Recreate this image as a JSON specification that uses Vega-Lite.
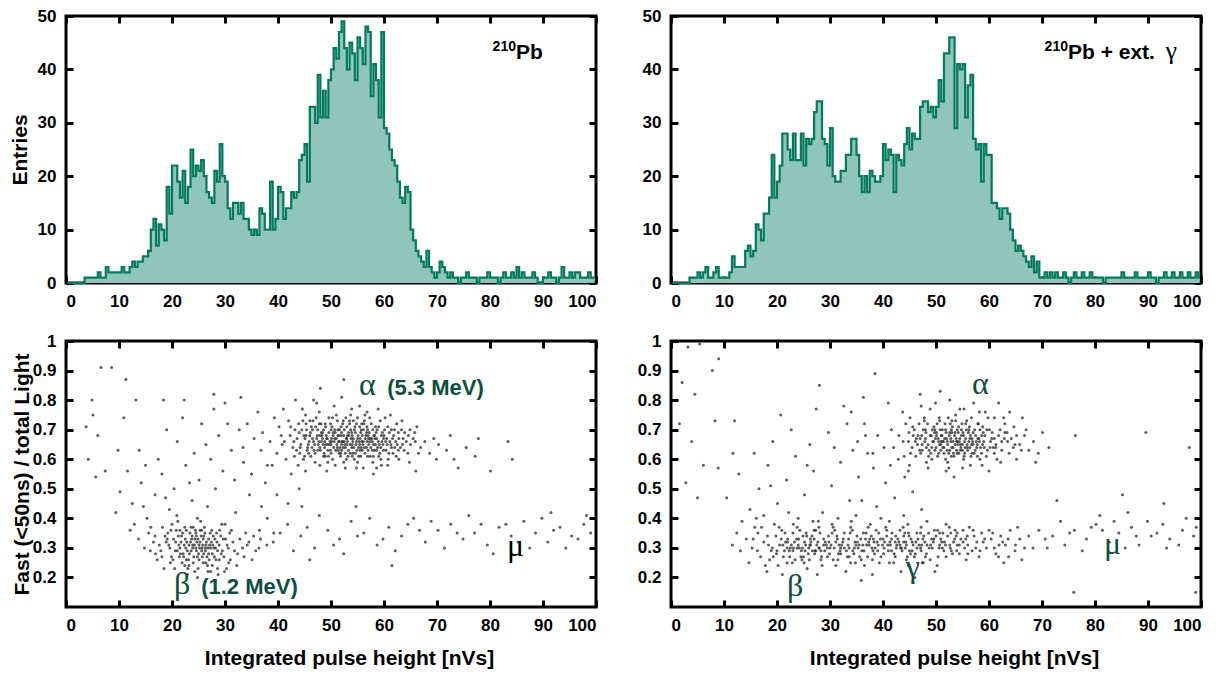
{
"$schema":"https://vega.github.io/schema/vega-lite/v6.json",
"padding":{"left":7,"top":5,"right":5,"bottom":5},
"config":{"view":{"stroke":"black","strokeWidth":3},"font":"Liberation Sans",
"axis":{"labelFont":"Liberation Sans Narrow, Liberation Sans","labelFontWeight":"bold","labelFontSize":17,"labelColor":"black","titleFont":"Liberation Sans Narrow, Liberation Sans","titleFontWeight":"bold","titleFontSize":21,"titleColor":"black","tickColor":"black","tickWidth":3,"tickSize":7,"offset":-7,"domain":false,"grid":false,"labelPadding":10,"zindex":1}},
"datasets":{
"h1":[{"x":0.25,"n":0},{"x":0.75,"n":0},{"x":1.25,"n":0},{"x":1.75,"n":0},{"x":2.25,"n":0},{"x":2.75,"n":0},{"x":3.25,"n":0},{"x":3.75,"n":1},{"x":4.25,"n":1},{"x":4.75,"n":1},{"x":5.25,"n":1},{"x":5.75,"n":1},{"x":6.25,"n":2},{"x":6.75,"n":1},{"x":7.25,"n":1},{"x":7.75,"n":3},{"x":8.25,"n":2},{"x":8.75,"n":2},{"x":9.25,"n":2},{"x":9.75,"n":2},{"x":10.25,"n":2},{"x":10.75,"n":3},{"x":11.25,"n":2},{"x":11.75,"n":2},{"x":12.25,"n":3},{"x":12.75,"n":4},{"x":13.25,"n":3},{"x":13.75,"n":4},{"x":14.25,"n":4},{"x":14.75,"n":5},{"x":15.25,"n":5},{"x":15.75,"n":6},{"x":16.25,"n":10},{"x":16.75,"n":12},{"x":17.25,"n":7},{"x":17.75,"n":11},{"x":18.25,"n":10},{"x":18.75,"n":8},{"x":19.25,"n":18},{"x":19.75,"n":13},{"x":20.25,"n":22},{"x":20.75,"n":22},{"x":21.25,"n":19},{"x":21.75,"n":16},{"x":22.25,"n":21},{"x":22.75,"n":15},{"x":23.25,"n":18},{"x":23.75,"n":25},{"x":24.25,"n":20},{"x":24.75,"n":22},{"x":25.25,"n":21},{"x":25.75,"n":23},{"x":26.25,"n":20},{"x":26.75,"n":17},{"x":27.25,"n":16},{"x":27.75,"n":15},{"x":28.25,"n":21},{"x":28.75,"n":19},{"x":29.25,"n":26},{"x":29.75,"n":20},{"x":30.25,"n":19},{"x":30.75,"n":14},{"x":31.25,"n":12},{"x":31.75,"n":15},{"x":32.25,"n":15},{"x":32.75,"n":13},{"x":33.25,"n":15},{"x":33.75,"n":12},{"x":34.25,"n":12},{"x":34.75,"n":10},{"x":35.25,"n":9},{"x":35.75,"n":10},{"x":36.25,"n":9},{"x":36.75,"n":14},{"x":37.25,"n":13},{"x":37.75,"n":10},{"x":38.25,"n":10},{"x":38.75,"n":19},{"x":39.25,"n":10},{"x":39.75,"n":12},{"x":40.25,"n":18},{"x":40.75,"n":17},{"x":41.25,"n":12},{"x":41.75,"n":14},{"x":42.25,"n":14},{"x":42.75,"n":17},{"x":43.25,"n":16},{"x":43.75,"n":17},{"x":44.25,"n":23},{"x":44.75,"n":24},{"x":45.25,"n":26},{"x":45.75,"n":19},{"x":46.25,"n":33},{"x":46.75,"n":33},{"x":47.25,"n":30},{"x":47.75,"n":39},{"x":48.25,"n":31},{"x":48.75,"n":36},{"x":49.25,"n":31},{"x":49.75,"n":38},{"x":50.25,"n":40},{"x":50.75,"n":44},{"x":51.25,"n":42},{"x":51.75,"n":47},{"x":52.25,"n":49},{"x":52.75,"n":44},{"x":53.25,"n":40},{"x":53.75,"n":45},{"x":54.25,"n":43},{"x":54.75,"n":38},{"x":55.25,"n":46},{"x":55.75,"n":44},{"x":56.25,"n":41},{"x":56.75,"n":48},{"x":57.25,"n":47},{"x":57.75,"n":35},{"x":58.25,"n":41},{"x":58.75,"n":38},{"x":59.25,"n":31},{"x":59.75,"n":47},{"x":60.25,"n":29},{"x":60.75,"n":28},{"x":61.25,"n":25},{"x":61.75,"n":23},{"x":62.25,"n":22},{"x":62.75,"n":19},{"x":63.25,"n":16},{"x":63.75,"n":15},{"x":64.25,"n":18},{"x":64.75,"n":17},{"x":65.25,"n":10},{"x":65.75,"n":8},{"x":66.25,"n":6},{"x":66.75,"n":5},{"x":67.25,"n":4},{"x":67.75,"n":3},{"x":68.25,"n":6},{"x":68.75,"n":3},{"x":69.25,"n":2},{"x":69.75,"n":1},{"x":70.25,"n":2},{"x":70.75,"n":4},{"x":71.25,"n":3},{"x":71.75,"n":2},{"x":72.25,"n":1},{"x":72.75,"n":2},{"x":73.25,"n":1},{"x":73.75,"n":1},{"x":74.25,"n":0},{"x":74.75,"n":1},{"x":75.25,"n":1},{"x":75.75,"n":2},{"x":76.25,"n":1},{"x":76.75,"n":1},{"x":77.25,"n":1},{"x":77.75,"n":0},{"x":78.25,"n":1},{"x":78.75,"n":1},{"x":79.25,"n":1},{"x":79.75,"n":2},{"x":80.25,"n":1},{"x":80.75,"n":1},{"x":81.25,"n":1},{"x":81.75,"n":0},{"x":82.25,"n":1},{"x":82.75,"n":2},{"x":83.25,"n":1},{"x":83.75,"n":1},{"x":84.25,"n":2},{"x":84.75,"n":1},{"x":85.25,"n":3},{"x":85.75,"n":1},{"x":86.25,"n":2},{"x":86.75,"n":1},{"x":87.25,"n":1},{"x":87.75,"n":1},{"x":88.25,"n":2},{"x":88.75,"n":1},{"x":89.25,"n":0},{"x":89.75,"n":0},{"x":90.25,"n":1},{"x":90.75,"n":1},{"x":91.25,"n":2},{"x":91.75,"n":1},{"x":92.25,"n":1},{"x":92.75,"n":0},{"x":93.25,"n":1},{"x":93.75,"n":3},{"x":94.25,"n":1},{"x":94.75,"n":1},{"x":95.25,"n":2},{"x":95.75,"n":1},{"x":96.25,"n":2},{"x":96.75,"n":2},{"x":97.25,"n":1},{"x":97.75,"n":1},{"x":98.25,"n":1},{"x":98.75,"n":2},{"x":99.25,"n":1},{"x":99.75,"n":1}],
"h2":[{"x":0.25,"n":0},{"x":0.75,"n":0},{"x":1.25,"n":0},{"x":1.75,"n":0},{"x":2.25,"n":0},{"x":2.75,"n":0},{"x":3.25,"n":0},{"x":3.75,"n":1},{"x":4.25,"n":1},{"x":4.75,"n":1},{"x":5.25,"n":2},{"x":5.75,"n":1},{"x":6.25,"n":2},{"x":6.75,"n":3},{"x":7.25,"n":1},{"x":7.75,"n":1},{"x":8.25,"n":2},{"x":8.75,"n":3},{"x":9.25,"n":1},{"x":9.75,"n":1},{"x":10.25,"n":1},{"x":10.75,"n":1},{"x":11.25,"n":2},{"x":11.75,"n":5},{"x":12.25,"n":3},{"x":12.75,"n":3},{"x":13.25,"n":3},{"x":13.75,"n":3},{"x":14.25,"n":6},{"x":14.75,"n":7},{"x":15.25,"n":5},{"x":15.75,"n":6},{"x":16.25,"n":11},{"x":16.75,"n":10},{"x":17.25,"n":8},{"x":17.75,"n":13},{"x":18.25,"n":13},{"x":18.75,"n":16},{"x":19.25,"n":24},{"x":19.75,"n":16},{"x":20.25,"n":19},{"x":20.75,"n":22},{"x":21.25,"n":28},{"x":21.75,"n":28},{"x":22.25,"n":25},{"x":22.75,"n":23},{"x":23.25,"n":28},{"x":23.75,"n":23},{"x":24.25,"n":23},{"x":24.75,"n":28},{"x":25.25,"n":22},{"x":25.75,"n":27},{"x":26.25,"n":26},{"x":26.75,"n":27},{"x":27.25,"n":32},{"x":27.75,"n":34},{"x":28.25,"n":34},{"x":28.75,"n":27},{"x":29.25,"n":26},{"x":29.75,"n":22},{"x":30.25,"n":29},{"x":30.75,"n":20},{"x":31.25,"n":19},{"x":31.75,"n":19},{"x":32.25,"n":21},{"x":32.75,"n":21},{"x":33.25,"n":24},{"x":33.75,"n":24},{"x":34.25,"n":27},{"x":34.75,"n":27},{"x":35.25,"n":24},{"x":35.75,"n":20},{"x":36.25,"n":17},{"x":36.75,"n":20},{"x":37.25,"n":17},{"x":37.75,"n":21},{"x":38.25,"n":20},{"x":38.75,"n":19},{"x":39.25,"n":19},{"x":39.75,"n":20},{"x":40.25,"n":26},{"x":40.75,"n":23},{"x":41.25,"n":25},{"x":41.75,"n":24},{"x":42.25,"n":17},{"x":42.75,"n":24},{"x":43.25,"n":23},{"x":43.75,"n":22},{"x":44.25,"n":26},{"x":44.75,"n":29},{"x":45.25,"n":25},{"x":45.75,"n":28},{"x":46.25,"n":27},{"x":46.75,"n":27},{"x":47.25,"n":33},{"x":47.75,"n":34},{"x":48.25,"n":34},{"x":48.75,"n":32},{"x":49.25,"n":33},{"x":49.75,"n":31},{"x":50.25,"n":33},{"x":50.75,"n":38},{"x":51.25,"n":34},{"x":51.75,"n":43},{"x":52.25,"n":43},{"x":52.75,"n":46},{"x":53.25,"n":46},{"x":53.75,"n":29},{"x":54.25,"n":41},{"x":54.75,"n":40},{"x":55.25,"n":41},{"x":55.75,"n":31},{"x":56.25,"n":37},{"x":56.75,"n":39},{"x":57.25,"n":27},{"x":57.75,"n":25},{"x":58.25,"n":26},{"x":58.75,"n":19},{"x":59.25,"n":26},{"x":59.75,"n":24},{"x":60.25,"n":24},{"x":60.75,"n":15},{"x":61.25,"n":15},{"x":61.75,"n":14},{"x":62.25,"n":12},{"x":62.75,"n":14},{"x":63.25,"n":14},{"x":63.75,"n":13},{"x":64.25,"n":10},{"x":64.75,"n":8},{"x":65.25,"n":6},{"x":65.75,"n":7},{"x":66.25,"n":6},{"x":66.75,"n":5},{"x":67.25,"n":4},{"x":67.75,"n":3},{"x":68.25,"n":5},{"x":68.75,"n":2},{"x":69.25,"n":4},{"x":69.75,"n":1},{"x":70.25,"n":1},{"x":70.75,"n":2},{"x":71.25,"n":1},{"x":71.75,"n":2},{"x":72.25,"n":1},{"x":72.75,"n":2},{"x":73.25,"n":1},{"x":73.75,"n":1},{"x":74.25,"n":2},{"x":74.75,"n":1},{"x":75.25,"n":0},{"x":75.75,"n":1},{"x":76.25,"n":2},{"x":76.75,"n":1},{"x":77.25,"n":1},{"x":77.75,"n":2},{"x":78.25,"n":1},{"x":78.75,"n":1},{"x":79.25,"n":2},{"x":79.75,"n":1},{"x":80.25,"n":1},{"x":80.75,"n":1},{"x":81.25,"n":1},{"x":81.75,"n":0},{"x":82.25,"n":1},{"x":82.75,"n":1},{"x":83.25,"n":1},{"x":83.75,"n":1},{"x":84.25,"n":1},{"x":84.75,"n":1},{"x":85.25,"n":2},{"x":85.75,"n":1},{"x":86.25,"n":1},{"x":86.75,"n":1},{"x":87.25,"n":1},{"x":87.75,"n":2},{"x":88.25,"n":1},{"x":88.75,"n":1},{"x":89.25,"n":1},{"x":89.75,"n":1},{"x":90.25,"n":2},{"x":90.75,"n":1},{"x":91.25,"n":1},{"x":91.75,"n":0},{"x":92.25,"n":1},{"x":92.75,"n":1},{"x":93.25,"n":2},{"x":93.75,"n":1},{"x":94.25,"n":1},{"x":94.75,"n":2},{"x":95.25,"n":1},{"x":95.75,"n":1},{"x":96.25,"n":2},{"x":96.75,"n":1},{"x":97.25,"n":1},{"x":97.75,"n":2},{"x":98.25,"n":1},{"x":98.75,"n":1},{"x":99.25,"n":2},{"x":99.75,"n":1}],
"s1":[{"x":52.1,"y":0.66},{"x":48.3,"y":0.68},{"x":55.7,"y":0.64},{"x":50.2,"y":0.71},{"x":57.4,"y":0.67},{"x":46.8,"y":0.63},{"x":53.9,"y":0.69},{"x":59.1,"y":0.65},{"x":44.5,"y":0.7},{"x":51.6,"y":0.62},{"x":56.2,"y":0.72},{"x":49.7,"y":0.65},{"x":54.4,"y":0.6},{"x":47.2,"y":0.74},{"x":58.6,"y":0.63},{"x":52.9,"y":0.67},{"x":45.9,"y":0.66},{"x":60.3,"y":0.66},{"x":50.8,"y":0.69},{"x":55.1,"y":0.68},{"x":43.6,"y":0.67},{"x":53.3,"y":0.63},{"x":57.9,"y":0.7},{"x":48.9,"y":0.61},{"x":51.2,"y":0.73},{"x":61.4,"y":0.64},{"x":46.1,"y":0.69},{"x":54.8,"y":0.66},{"x":49.2,"y":0.67},{"x":56.9,"y":0.61},{"x":52.5,"y":0.7},{"x":42.8,"y":0.64},{"x":58.2,"y":0.68},{"x":50.5,"y":0.64},{"x":55.4,"y":0.71},{"x":47.7,"y":0.66},{"x":53.6,"y":0.65},{"x":62.2,"y":0.66},{"x":45.3,"y":0.72},{"x":51.9,"y":0.68},{"x":57.1,"y":0.65},{"x":48.6,"y":0.7},{"x":54.1,"y":0.62},{"x":59.7,"y":0.69},{"x":44.1,"y":0.62},{"x":52.3,"y":0.64},{"x":56.5,"y":0.67},{"x":49.9,"y":0.72},{"x":60.9,"y":0.62},{"x":46.5,"y":0.67},{"x":53.0,"y":0.71},{"x":55.9,"y":0.63},{"x":47.9,"y":0.64},{"x":58.9,"y":0.66},{"x":51.4,"y":0.66},{"x":63.1,"y":0.64},{"x":50.0,"y":0.62},{"x":54.6,"y":0.69},{"x":45.6,"y":0.64},{"x":57.6,"y":0.72},{"x":52.7,"y":0.62},{"x":48.1,"y":0.72},{"x":55.3,"y":0.66},{"x":61.8,"y":0.68},{"x":43.2,"y":0.7},{"x":53.8,"y":0.67},{"x":49.4,"y":0.63},{"x":56.7,"y":0.69},{"x":51.0,"y":0.67},{"x":59.4,"y":0.64},{"x":46.3,"y":0.71},{"x":54.3,"y":0.64},{"x":47.4,"y":0.68},{"x":58.0,"y":0.61},{"x":52.0,"y":0.69},{"x":64.2,"y":0.66},{"x":50.6,"y":0.66},{"x":55.6,"y":0.69},{"x":44.9,"y":0.68},{"x":57.3,"y":0.66},{"x":48.8,"y":0.66},{"x":53.5,"y":0.73},{"x":60.1,"y":0.7},{"x":51.7,"y":0.64},{"x":56.0,"y":0.65},{"x":46.9,"y":0.65},{"x":62.7,"y":0.63},{"x":49.6,"y":0.69},{"x":54.9,"y":0.63},{"x":52.2,"y":0.72},{"x":58.4,"y":0.65},{"x":45.1,"y":0.67},{"x":50.3,"y":0.6},{"x":55.0,"y":0.74},{"x":47.0,"y":0.62},{"x":59.9,"y":0.67},{"x":53.1,"y":0.66},{"x":57.8,"y":0.63},{"x":48.4,"y":0.67},{"x":61.1,"y":0.66},{"x":51.3,"y":0.7},{"x":54.0,"y":0.68},{"x":42.3,"y":0.68},{"x":56.4,"y":0.62},{"x":49.0,"y":0.71},{"x":63.6,"y":0.67},{"x":52.6,"y":0.65},{"x":46.6,"y":0.73},{"x":58.7,"y":0.7},{"x":50.9,"y":0.63},{"x":55.2,"y":0.61},{"x":44.3,"y":0.65},{"x":53.7,"y":0.7},{"x":60.6,"y":0.65},{"x":47.5,"y":0.7},{"x":57.0,"y":0.68},{"x":51.8,"y":0.61},{"x":54.5,"y":0.71},{"x":48.0,"y":0.63},{"x":59.2,"y":0.62},{"x":52.4,"y":0.68},{"x":65.0,"y":0.65},{"x":45.8,"y":0.62},{"x":56.1,"y":0.7},{"x":50.1,"y":0.67},{"x":53.2,"y":0.61},{"x":61.6,"y":0.67},{"x":47.8,"y":0.72},{"x":55.8,"y":0.66},{"x":49.3,"y":0.65},{"x":58.3,"y":0.67},{"x":51.5,"y":0.68},{"x":43.9,"y":0.72},{"x":57.5,"y":0.64},{"x":54.7,"y":0.65},{"x":46.0,"y":0.68},{"x":62.5,"y":0.65},{"x":52.8,"y":0.74},{"x":48.5,"y":0.65},{"x":59.6,"y":0.66},{"x":50.7,"y":0.7},{"x":56.8,"y":0.66},{"x":53.4,"y":0.68},{"x":45.0,"y":0.61},{"x":60.4,"y":0.63},{"x":49.5,"y":0.61},{"x":55.5,"y":0.67},{"x":51.1,"y":0.65},{"x":57.2,"y":0.69},{"x":47.3,"y":0.67},{"x":63.9,"y":0.69},{"x":54.2,"y":0.67},{"x":52.0,"y":0.63},{"x":58.8,"y":0.64},{"x":44.7,"y":0.73},{"x":50.4,"y":0.68},{"x":56.3,"y":0.64},{"x":48.2,"y":0.69},{"x":61.3,"y":0.65},{"x":53.0,"y":0.65},{"x":46.4,"y":0.64},{"x":55.7,"y":0.7},{"x":49.8,"y":0.66},{"x":59.0,"y":0.71},{"x":51.9,"y":0.71},{"x":57.7,"y":0.67},{"x":47.6,"y":0.65},{"x":54.0,"y":0.61},{"x":62.0,"y":0.7},{"x":52.5,"y":0.66},{"x":45.4,"y":0.7},{"x":56.6,"y":0.68},{"x":50.0,"y":0.65},{"x":60.0,"y":0.68},{"x":53.6,"y":0.62},{"x":48.7,"y":0.62},{"x":58.5,"y":0.69},{"x":55.2,"y":0.64},{"x":43.0,"y":0.66},{"x":51.2,"y":0.64},{"x":57.4,"y":0.61},{"x":49.1,"y":0.68},{"x":64.5,"y":0.62},{"x":54.8,"y":0.72},
{"x":44.0,"y":0.69},{"x":45.7,"y":0.65},{"x":47.1,"y":0.71},{"x":48.8,"y":0.64},{"x":50.3,"y":0.74},{"x":51.6,"y":0.7},{"x":52.9,"y":0.6},{"x":54.2,"y":0.73},{"x":55.5,"y":0.63},{"x":56.8,"y":0.71},{"x":58.1,"y":0.68},{"x":59.4,"y":0.6},{"x":60.7,"y":0.71},{"x":62.0,"y":0.64},{"x":63.3,"y":0.7},{"x":64.6,"y":0.68},{"x":46.2,"y":0.61},{"x":47.8,"y":0.76},{"x":49.4,"y":0.59},{"x":51.0,"y":0.75},{"x":52.4,"y":0.59},{"x":53.7,"y":0.75},{"x":55.0,"y":0.59},{"x":56.4,"y":0.75},{"x":57.9,"y":0.59},{"x":59.3,"y":0.73},{"x":60.8,"y":0.6},{"x":62.4,"y":0.72},{"x":41.2,"y":0.66},{"x":42.4,"y":0.71},{"x":43.5,"y":0.63},{"x":44.8,"y":0.6},{"x":45.2,"y":0.75},{"x":48.2,"y":0.66},{"x":49.0,"y":0.65},{"x":50.7,"y":0.67},{"x":51.4,"y":0.63},{"x":52.2,"y":0.66},{"x":53.3,"y":0.69},{"x":54.1,"y":0.66},{"x":55.0,"y":0.67},{"x":55.9,"y":0.68},{"x":56.7,"y":0.64},{"x":57.8,"y":0.66},{"x":58.6,"y":0.67},{"x":59.8,"y":0.65},{"x":61.0,"y":0.69},{"x":62.8,"y":0.67},{"x":48.4,"y":0.69},{"x":49.9,"y":0.63},{"x":51.3,"y":0.68},{"x":52.7,"y":0.64},{"x":54.0,"y":0.65},{"x":55.4,"y":0.65},{"x":56.9,"y":0.7},{"x":58.2,"y":0.63},{"x":46.7,"y":0.66},{"x":47.5,"y":0.63},{"x":50.4,"y":0.69},{"x":53.1,"y":0.68},{"x":54.6,"y":0.62},{"x":57.1,"y":0.67},{"x":59.5,"y":0.68},{"x":61.7,"y":0.62},{"x":63.8,"y":0.63},{"x":65.5,"y":0.67},{"x":66.5,"y":0.62},{"x":65.9,"y":0.66},{"x":45.3,"y":0.68},{"x":44.2,"y":0.64},{"x":43.1,"y":0.61},{"x":42.0,"y":0.73},{"x":40.6,"y":0.68},{"x":39.8,"y":0.62},{"x":46.0,"y":0.73},{"x":49.6,"y":0.74},{"x":53.5,"y":0.72},{"x":57.3,"y":0.74},{"x":60.2,"y":0.74},{"x":58.6,"y":0.57},{"x":54.8,"y":0.57},{"x":50.8,"y":0.58},{"x":47.0,"y":0.59},{"x":52.0,"y":0.65},{"x":53.9,"y":0.64},{"x":55.6,"y":0.61},{"x":51.6,"y":0.66},{"x":50.0,"y":0.7},{"x":48.9,"y":0.72},{"x":56.1,"y":0.66},{"x":57.0,"y":0.63},{"x":58.4,"y":0.71},{"x":59.9,"y":0.63},{"x":61.4,"y":0.7},{"x":62.3,"y":0.61},{"x":63.5,"y":0.65},{"x":64.9,"y":0.7},{"x":60.5,"y":0.67},{"x":56.3,"y":0.73},{"x":52.3,"y":0.73},{"x":48.6,"y":0.61},{"x":45.5,"y":0.63},{"x":47.9,"y":0.68},{"x":51.8,"y":0.62},{"x":55.8,"y":0.72},{"x":54.4,"y":0.7},{"x":53.0,"y":0.67},{"x":50.1,"y":0.66},{"x":49.3,"y":0.67},{"x":46.5,"y":0.7},{"x":58.0,"y":0.65},{"x":59.0,"y":0.61},{"x":62.7,"y":0.69},
{"x":38.5,"y":0.66},{"x":40.2,"y":0.71},{"x":36.8,"y":0.63},{"x":41.5,"y":0.6},{"x":39.3,"y":0.74},{"x":37.1,"y":0.69},{"x":41.0,"y":0.77},{"x":43.8,"y":0.58},{"x":35.5,"y":0.67},{"x":40.8,"y":0.65},{"x":44.6,"y":0.77},{"x":47.3,"y":0.79},{"x":50.6,"y":0.78},{"x":53.9,"y":0.77},{"x":56.8,"y":0.76},{"x":49.2,"y":0.56},{"x":52.7,"y":0.57},{"x":56.1,"y":0.57},{"x":59.5,"y":0.58},{"x":62.8,"y":0.6},{"x":65.8,"y":0.69},{"x":66.9,"y":0.64},{"x":67.7,"y":0.66},{"x":68.6,"y":0.62},{"x":66.2,"y":0.71},{"x":69.4,"y":0.67},{"x":70.3,"y":0.65},{"x":71.8,"y":0.63},{"x":73.2,"y":0.6},{"x":75.5,"y":0.64},{"x":74.0,"y":0.57},{"x":77.2,"y":0.61},{"x":80.1,"y":0.56},{"x":83.4,"y":0.66},{"x":63.4,"y":0.73},{"x":61.2,"y":0.75},{"x":58.9,"y":0.77},{"x":45.2,"y":0.56},{"x":42.5,"y":0.55},{"x":46.7,"y":0.8},{"x":38.0,"y":0.58},{"x":34.2,"y":0.72},{"x":36.2,"y":0.76},{"x":33.4,"y":0.64},{"x":47.9,"y":0.58},{"x":55.4,"y":0.78},{"x":60.7,"y":0.58},{"x":64.8,"y":0.59},{"x":69.9,"y":0.6},{"x":72.5,"y":0.68},{"x":66.0,"y":0.56},{"x":58.0,"y":0.55},{"x":43.3,"y":0.8},{"x":52.0,"y":0.81},{"x":48.0,"y":0.84},
{"x":12.5,"y":0.45},{"x":14.2,"y":0.52},{"x":16.8,"y":0.48},{"x":18.1,"y":0.55},{"x":20.4,"y":0.5},{"x":22.6,"y":0.58},{"x":15.3,"y":0.4},{"x":19.5,"y":0.43},{"x":23.8,"y":0.46},{"x":25.1,"y":0.53},{"x":27.3,"y":0.6},{"x":29.6,"y":0.56},{"x":31.2,"y":0.63},{"x":33.5,"y":0.59},{"x":26.4,"y":0.65},{"x":24.2,"y":0.62},{"x":21.0,"y":0.66},{"x":28.8,"y":0.68},{"x":30.5,"y":0.72},{"x":32.7,"y":0.7},{"x":35.0,"y":0.55},{"x":37.6,"y":0.52},{"x":39.8,"y":0.48},{"x":41.9,"y":0.45},{"x":44.0,"y":0.5},{"x":17.4,"y":0.6},{"x":13.8,"y":0.63},{"x":11.6,"y":0.56},{"x":10.2,"y":0.49},{"x":19.0,"y":0.7},{"x":22.0,"y":0.74},{"x":25.6,"y":0.72},{"x":27.9,"y":0.77},{"x":30.0,"y":0.79},{"x":34.6,"y":0.48},{"x":36.9,"y":0.44},{"x":16.0,"y":0.37},{"x":20.9,"y":0.41},{"x":26.7,"y":0.44},{"x":32.0,"y":0.42},{"x":12.9,"y":0.38},{"x":9.4,"y":0.42},{"x":15.0,"y":0.58},{"x":23.3,"y":0.52},{"x":28.2,"y":0.5},{"x":38.9,"y":0.58},{"x":31.8,"y":0.53},{"x":18.8,"y":0.47},{"x":24.8,"y":0.4},{"x":14.6,"y":0.44},
{"x":25.2,"y":0.3},{"x":22.8,"y":0.32},{"x":27.6,"y":0.28},{"x":24.1,"y":0.27},{"x":26.9,"y":0.33},{"x":21.5,"y":0.3},{"x":28.9,"y":0.31},{"x":23.4,"y":0.35},{"x":25.9,"y":0.25},{"x":20.3,"y":0.33},{"x":29.8,"y":0.27},{"x":24.7,"y":0.32},{"x":22.1,"y":0.28},{"x":27.2,"y":0.35},{"x":26.3,"y":0.29},{"x":19.4,"y":0.31},{"x":30.6,"y":0.3},{"x":23.9,"y":0.3},{"x":25.5,"y":0.34},{"x":21.9,"y":0.25},{"x":28.3,"y":0.26},{"x":24.4,"y":0.36},{"x":26.6,"y":0.27},{"x":18.7,"y":0.34},{"x":31.5,"y":0.32},{"x":22.5,"y":0.33},{"x":27.9,"y":0.3},{"x":23.1,"y":0.26},{"x":25.8,"y":0.31},{"x":20.8,"y":0.36},{"x":29.2,"y":0.34},{"x":24.9,"y":0.23},{"x":26.1,"y":0.37},{"x":22.3,"y":0.31},{"x":28.6,"y":0.29},{"x":17.9,"y":0.29},{"x":32.4,"y":0.28},{"x":23.6,"y":0.29},{"x":25.0,"y":0.28},{"x":21.2,"y":0.34},{"x":27.4,"y":0.32},{"x":24.3,"y":0.33},{"x":26.7,"y":0.24},{"x":19.9,"y":0.27},{"x":30.1,"y":0.33},{"x":22.7,"y":0.36},{"x":28.1,"y":0.33},{"x":23.0,"y":0.23},{"x":25.6,"y":0.36},{"x":21.7,"y":0.32},{"x":29.5,"y":0.29},{"x":24.6,"y":0.29},{"x":26.4,"y":0.31},{"x":18.2,"y":0.37},{"x":33.3,"y":0.3},{"x":20.6,"y":0.29},{"x":27.0,"y":0.26},{"x":23.7,"y":0.33},{"x":25.3,"y":0.32},{"x":22.0,"y":0.35},{"x":28.4,"y":0.35},{"x":24.0,"y":0.25},{"x":26.0,"y":0.34},{"x":19.1,"y":0.33},{"x":31.0,"y":0.26},{"x":21.4,"y":0.27},{"x":27.7,"y":0.31},{"x":23.2,"y":0.31},{"x":25.7,"y":0.27},{"x":29.0,"y":0.36},{"x":24.5,"y":0.35},{"x":22.4,"y":0.24},{"x":26.8,"y":0.3},{"x":20.0,"y":0.38},{"x":30.9,"y":0.35},{"x":16.5,"y":0.32},{"x":34.5,"y":0.32},{"x":17.2,"y":0.26},{"x":35.8,"y":0.29},{"x":15.6,"y":0.35},{"x":33.9,"y":0.35},{"x":36.7,"y":0.33},{"x":18.5,"y":0.23},{"x":32.2,"y":0.24},{"x":14.8,"y":0.3},{"x":37.9,"y":0.31},{"x":22.9,"y":0.21},{"x":27.3,"y":0.22},{"x":21.1,"y":0.39},{"x":29.4,"y":0.38},{"x":25.4,"y":0.39},{"x":30.3,"y":0.23},{"x":19.7,"y":0.25},{"x":16.9,"y":0.28},{"x":35.1,"y":0.26},{"x":13.7,"y":0.33},{"x":39.2,"y":0.35},{"x":24.8,"y":0.2},{"x":28.7,"y":0.21},{"x":12.1,"y":0.36},
{"x":24.2,"y":0.31},{"x":25.6,"y":0.29},{"x":23.3,"y":0.28},{"x":26.5,"y":0.32},{"x":22.6,"y":0.3},{"x":27.3,"y":0.3},{"x":21.3,"y":0.31},{"x":28.5,"y":0.32},{"x":24.8,"y":0.27},{"x":25.9,"y":0.33},{"x":23.8,"y":0.34},{"x":26.9,"y":0.28},{"x":20.7,"y":0.32},{"x":29.3,"y":0.28},{"x":22.2,"y":0.27},{"x":27.8,"y":0.34},{"x":24.5,"y":0.3},{"x":25.1,"y":0.26},{"x":23.5,"y":0.32},{"x":26.2,"y":0.35},{"x":19.6,"y":0.3},{"x":30.4,"y":0.31},{"x":21.8,"y":0.34},{"x":28.0,"y":0.27},{"x":24.0,"y":0.37},{"x":26.4,"y":0.25},{"x":22.9,"y":0.29},{"x":27.1,"y":0.31},{"x":18.9,"y":0.32},{"x":31.8,"y":0.29},{"x":20.2,"y":0.26},{"x":29.7,"y":0.33},{"x":23.2,"y":0.24},{"x":25.3,"y":0.36},{"x":21.0,"y":0.29},{"x":28.9,"y":0.26},{"x":24.3,"y":0.22},{"x":26.0,"y":0.28},{"x":17.6,"y":0.31},{"x":32.8,"y":0.33},{"x":19.2,"y":0.35},{"x":30.7,"y":0.25},{"x":22.4,"y":0.37},{"x":27.6,"y":0.24},{"x":25.7,"y":0.3},{"x":24.6,"y":0.34},{"x":23.9,"y":0.31},{"x":26.3,"y":0.3},{"x":21.6,"y":0.28},{"x":28.2,"y":0.3},{"x":16.8,"y":0.34},{"x":33.6,"y":0.27},{"x":20.5,"y":0.23},{"x":31.2,"y":0.36},{"x":34.2,"y":0.31},{"x":35.4,"y":0.34},{"x":36.4,"y":0.3},{"x":15.9,"y":0.29},{"x":18.1,"y":0.27},{"x":29.9,"y":0.22},{"x":22.7,"y":0.26},{"x":27.5,"y":0.36},{"x":25.1,"y":0.31},{"x":23.6,"y":0.37},{"x":26.8,"y":0.22},{"x":19.8,"y":0.36},{"x":30.0,"y":0.38},{"x":24.9,"y":0.33},{"x":21.5,"y":0.36},{"x":28.6,"y":0.23},
{"x":36.5,"y":0.36},{"x":39.1,"y":0.32},{"x":41.8,"y":0.38},{"x":44.3,"y":0.34},{"x":46.9,"y":0.3},{"x":49.4,"y":0.36},{"x":51.6,"y":0.33},{"x":53.8,"y":0.39},{"x":56.2,"y":0.35},{"x":58.7,"y":0.31},{"x":60.9,"y":0.37},{"x":63.3,"y":0.34},{"x":65.6,"y":0.4},{"x":67.8,"y":0.32},{"x":70.2,"y":0.36},{"x":72.6,"y":0.38},{"x":74.9,"y":0.33},{"x":77.1,"y":0.35},{"x":79.5,"y":0.31},{"x":81.7,"y":0.37},{"x":84.0,"y":0.34},{"x":86.4,"y":0.39},{"x":88.6,"y":0.35},{"x":90.9,"y":0.32},{"x":93.2,"y":0.37},{"x":95.4,"y":0.34},{"x":97.7,"y":0.38},{"x":99.0,"y":0.35},{"x":38.0,"y":0.4},{"x":42.9,"y":0.29},{"x":47.8,"y":0.41},{"x":52.4,"y":0.28},{"x":57.3,"y":0.4},{"x":62.1,"y":0.29},{"x":66.7,"y":0.36},{"x":71.4,"y":0.3},{"x":76.0,"y":0.41},{"x":80.6,"y":0.28},{"x":85.3,"y":0.32},{"x":89.8,"y":0.4},{"x":94.3,"y":0.3},{"x":98.2,"y":0.41},{"x":45.5,"y":0.37},{"x":55.0,"y":0.34},{"x":64.5,"y":0.38},{"x":73.8,"y":0.35},{"x":83.0,"y":0.38},{"x":92.0,"y":0.36},{"x":96.6,"y":0.33},{"x":68.9,"y":0.39},{"x":59.8,"y":0.33},{"x":50.5,"y":0.31},{"x":40.4,"y":0.35},{"x":87.5,"y":0.3},{"x":78.3,"y":0.38},{"x":61.5,"y":0.24},{"x":46.0,"y":0.26},{"x":91.5,"y":0.42},{"x":54.7,"y":0.44},
{"x":3.8,"y":0.71},{"x":5.1,"y":0.75},{"x":4.2,"y":0.6},{"x":6.6,"y":0.91},{"x":8.6,"y":0.91},{"x":11.3,"y":0.87},{"x":6.0,"y":0.68},{"x":7.4,"y":0.56},{"x":13.2,"y":0.8},{"x":18.4,"y":0.8},{"x":22.3,"y":0.8},{"x":27.9,"y":0.82},{"x":33.0,"y":0.81},{"x":9.8,"y":0.63},{"x":5.6,"y":0.54},{"x":10.9,"y":0.74},{"x":44.5,"y":0.44},{"x":84.2,"y":0.6},{"x":77.8,"y":0.67},{"x":52.4,"y":0.87},{"x":4.9,"y":0.8}],
"s2":[{"x":53.2,"y":0.66},{"x":50.1,"y":0.68},{"x":56.4,"y":0.64},{"x":48.7,"y":0.63},{"x":54.8,"y":0.7},{"x":51.5,"y":0.62},{"x":57.9,"y":0.67},{"x":46.3,"y":0.67},{"x":52.7,"y":0.72},{"x":55.3,"y":0.61},{"x":49.6,"y":0.71},{"x":58.8,"y":0.65},{"x":47.4,"y":0.65},{"x":53.9,"y":0.63},{"x":51.0,"y":0.66},{"x":56.1,"y":0.69},{"x":44.9,"y":0.69},{"x":59.7,"y":0.63},{"x":52.2,"y":0.65},{"x":54.5,"y":0.67},{"x":50.6,"y":0.74},{"x":57.2,"y":0.62},{"x":48.1,"y":0.69},{"x":55.8,"y":0.73},{"x":49.2,"y":0.64},{"x":60.5,"y":0.67},{"x":53.5,"y":0.68},{"x":46.8,"y":0.72},{"x":51.9,"y":0.69},{"x":56.9,"y":0.66},{"x":45.5,"y":0.64},{"x":54.0,"y":0.62},{"x":58.3,"y":0.7},{"x":50.3,"y":0.61},{"x":52.9,"y":0.7},{"x":47.9,"y":0.66},{"x":55.0,"y":0.65},{"x":61.3,"y":0.65},{"x":49.9,"y":0.67},{"x":53.7,"y":0.73},{"x":57.5,"y":0.68},{"x":51.3,"y":0.64},{"x":48.4,"y":0.72},{"x":56.6,"y":0.61},{"x":54.2,"y":0.69},{"x":43.8,"y":0.66},{"x":59.2,"y":0.68},{"x":52.4,"y":0.62},{"x":50.8,"y":0.7},{"x":55.6,"y":0.67},{"x":47.1,"y":0.62},{"x":62.4,"y":0.63},{"x":53.0,"y":0.64},{"x":49.4,"y":0.66},{"x":57.0,"y":0.65},{"x":51.7,"y":0.72},{"x":54.7,"y":0.64},{"x":45.9,"y":0.7},{"x":58.6,"y":0.62},{"x":52.0,"y":0.67},{"x":56.3,"y":0.71},{"x":48.9,"y":0.68},{"x":60.1,"y":0.7},{"x":53.4,"y":0.61},{"x":50.0,"y":0.64},{"x":55.1,"y":0.69},{"x":46.5,"y":0.65},{"x":57.7,"y":0.64},{"x":51.1,"y":0.68},{"x":63.5,"y":0.66},{"x":54.4,"y":0.66},{"x":49.0,"y":0.62},{"x":52.6,"y":0.69},{"x":56.0,"y":0.63},{"x":47.6,"y":0.7},{"x":59.0,"y":0.66},{"x":53.8,"y":0.67},{"x":50.5,"y":0.66},{"x":55.4,"y":0.62},{"x":44.3,"y":0.72},{"x":58.0,"y":0.72},{"x":51.8,"y":0.6},{"x":54.9,"y":0.72},{"x":48.2,"y":0.64},{"x":61.8,"y":0.68},{"x":52.8,"y":0.66},{"x":57.3,"y":0.7},{"x":49.7,"y":0.69},{"x":45.2,"y":0.62},{"x":55.9,"y":0.65},{"x":53.1,"y":0.71},{"x":50.9,"y":0.63},{"x":60.8,"y":0.64},{"x":47.3,"y":0.68},{"x":54.1,"y":0.65},{"x":56.8,"y":0.67},{"x":51.4,"y":0.66},{"x":58.4,"y":0.64},{"x":52.3,"y":0.74},{"x":49.3,"y":0.7},{"x":64.6,"y":0.64},{"x":55.2,"y":0.68},{"x":46.1,"y":0.66},{"x":57.6,"y":0.66},{"x":53.6,"y":0.65},{"x":50.2,"y":0.72},{"x":62.9,"y":0.67},{"x":48.6,"y":0.61},{"x":54.6,"y":0.63},{"x":56.5,"y":0.68},{"x":51.6,"y":0.67},{"x":59.5,"y":0.61},{"x":52.1,"y":0.63},{"x":47.8,"y":0.73},{"x":55.7,"y":0.7},{"x":53.3,"y":0.62},{"x":58.1,"y":0.67},{"x":50.7,"y":0.65},{"x":45.7,"y":0.68},{"x":61.0,"y":0.62},{"x":54.3,"y":0.71},{"x":49.8,"y":0.63},{"x":56.7,"y":0.65},{"x":52.5,"y":0.68},{"x":57.8,"y":0.61},{"x":48.0,"y":0.67},{"x":60.3,"y":0.66},{"x":53.0,"y":0.69},{"x":51.2,"y":0.7},{"x":55.5,"y":0.64},{"x":46.9,"y":0.63},{"x":63.0,"y":0.69},{"x":54.0,"y":0.66},{"x":58.9,"y":0.69},{"x":50.4,"y":0.67},{"x":52.9,"y":0.61},{"x":56.2,"y":0.66},
{"x":47.0,"y":0.67},{"x":48.5,"y":0.65},{"x":49.8,"y":0.7},{"x":51.2,"y":0.66},{"x":52.6,"y":0.63},{"x":54.0,"y":0.7},{"x":55.4,"y":0.66},{"x":56.8,"y":0.62},{"x":58.2,"y":0.66},{"x":59.6,"y":0.7},{"x":61.0,"y":0.67},{"x":62.4,"y":0.66},{"x":63.8,"y":0.62},{"x":65.2,"y":0.68},{"x":46.2,"y":0.61},{"x":47.8,"y":0.74},{"x":49.2,"y":0.6},{"x":50.7,"y":0.73},{"x":52.2,"y":0.59},{"x":53.7,"y":0.75},{"x":55.2,"y":0.6},{"x":56.7,"y":0.74},{"x":58.3,"y":0.6},{"x":59.8,"y":0.74},{"x":61.5,"y":0.6},{"x":63.0,"y":0.72},{"x":44.8,"y":0.66},{"x":45.6,"y":0.71},{"x":50.1,"y":0.69},{"x":51.5,"y":0.64},{"x":52.8,"y":0.67},{"x":53.9,"y":0.66},{"x":54.8,"y":0.68},{"x":55.9,"y":0.64},{"x":57.0,"y":0.69},{"x":58.6,"y":0.68},{"x":60.2,"y":0.64},{"x":48.0,"y":0.7},{"x":49.5,"y":0.66},{"x":53.2,"y":0.64},{"x":54.3,"y":0.62},{"x":56.2,"y":0.7},{"x":57.4,"y":0.63},{"x":59.1,"y":0.64},{"x":60.6,"y":0.69},{"x":62.1,"y":0.7},{"x":64.2,"y":0.67},{"x":66.1,"y":0.63},{"x":67.0,"y":0.7},{"x":50.5,"y":0.62},{"x":51.8,"y":0.7},{"x":53.0,"y":0.73},{"x":55.6,"y":0.72},{"x":57.9,"y":0.72},{"x":46.6,"y":0.68},{"x":43.0,"y":0.68},{"x":42.0,"y":0.64},{"x":44.0,"y":0.61},{"x":45.1,"y":0.74},{"x":48.9,"y":0.77},{"x":54.5,"y":0.77},{"x":59.3,"y":0.76},{"x":62.8,"y":0.74},{"x":56.5,"y":0.58},{"x":52.4,"y":0.57},{"x":48.2,"y":0.59},{"x":52.1,"y":0.66},{"x":53.6,"y":0.69},{"x":55.0,"y":0.63},{"x":56.4,"y":0.67},{"x":57.8,"y":0.65},{"x":49.1,"y":0.68},{"x":50.9,"y":0.65},{"x":58.8,"y":0.71},{"x":61.3,"y":0.64},{"x":47.4,"y":0.63},{"x":63.4,"y":0.69},{"x":64.9,"y":0.65},{"x":54.6,"y":0.65},{"x":51.0,"y":0.68},
{"x":40.2,"y":0.64},{"x":41.6,"y":0.7},{"x":42.9,"y":0.6},{"x":39.0,"y":0.68},{"x":43.7,"y":0.76},{"x":38.1,"y":0.62},{"x":45.0,"y":0.58},{"x":47.2,"y":0.78},{"x":49.9,"y":0.79},{"x":52.6,"y":0.8},{"x":55.3,"y":0.77},{"x":58.2,"y":0.76},{"x":61.0,"y":0.74},{"x":48.5,"y":0.57},{"x":51.9,"y":0.56},{"x":55.0,"y":0.57},{"x":58.7,"y":0.58},{"x":62.2,"y":0.59},{"x":64.7,"y":0.71},{"x":65.8,"y":0.65},{"x":66.7,"y":0.68},{"x":67.5,"y":0.63},{"x":68.4,"y":0.66},{"x":65.2,"y":0.6},{"x":69.3,"y":0.62},{"x":70.1,"y":0.69},{"x":66.3,"y":0.74},{"x":63.9,"y":0.76},{"x":36.5,"y":0.72},{"x":35.2,"y":0.66},{"x":34.0,"y":0.76},{"x":44.1,"y":0.54},{"x":53.4,"y":0.54},{"x":60.0,"y":0.56},{"x":47.0,"y":0.82},{"x":50.8,"y":0.83},{"x":41.0,"y":0.79},{"x":71.3,"y":0.64},{"x":57.1,"y":0.79},{"x":68.8,"y":0.59},
{"x":10.5,"y":0.47},{"x":12.8,"y":0.55},{"x":14.9,"y":0.43},{"x":16.6,"y":0.5},{"x":18.3,"y":0.58},{"x":20.1,"y":0.45},{"x":21.8,"y":0.53},{"x":23.5,"y":0.61},{"x":25.2,"y":0.48},{"x":26.9,"y":0.56},{"x":28.6,"y":0.42},{"x":30.3,"y":0.51},{"x":32.0,"y":0.59},{"x":33.7,"y":0.46},{"x":35.4,"y":0.54},{"x":37.1,"y":0.62},{"x":38.8,"y":0.44},{"x":40.5,"y":0.52},{"x":42.2,"y":0.47},{"x":43.9,"y":0.41},{"x":45.6,"y":0.49},{"x":47.3,"y":0.43},{"x":15.7,"y":0.62},{"x":19.2,"y":0.66},{"x":22.7,"y":0.7},{"x":26.2,"y":0.65},{"x":29.7,"y":0.69},{"x":33.2,"y":0.72},{"x":36.7,"y":0.68},{"x":24.0,"y":0.4},{"x":27.8,"y":0.39},{"x":31.5,"y":0.4},{"x":34.9,"y":0.41},{"x":39.6,"y":0.4},{"x":13.4,"y":0.39},{"x":17.5,"y":0.41},{"x":11.7,"y":0.62},{"x":8.9,"y":0.57},{"x":30.8,"y":0.64},{"x":34.3,"y":0.63},{"x":38.2,"y":0.57},{"x":41.4,"y":0.58},{"x":44.8,"y":0.56},{"x":20.7,"y":0.75},{"x":27.4,"y":0.77},{"x":32.6,"y":0.78},{"x":36.0,"y":0.46},{"x":22.2,"y":0.42},{"x":18.8,"y":0.51},{"x":25.7,"y":0.58},
{"x":20.5,"y":0.31},{"x":22.3,"y":0.29},{"x":24.1,"y":0.33},{"x":25.9,"y":0.28},{"x":27.7,"y":0.32},{"x":29.5,"y":0.3},{"x":31.3,"y":0.34},{"x":33.1,"y":0.29},{"x":34.9,"y":0.31},{"x":36.7,"y":0.33},{"x":38.5,"y":0.3},{"x":40.3,"y":0.32},{"x":42.1,"y":0.28},{"x":43.9,"y":0.34},{"x":45.7,"y":0.31},{"x":47.5,"y":0.33},{"x":49.3,"y":0.3},{"x":51.1,"y":0.32},{"x":52.9,"y":0.29},{"x":54.7,"y":0.33},
{"x":21.2,"y":0.27},{"x":23.0,"y":0.35},{"x":24.8,"y":0.3},{"x":26.6,"y":0.34},{"x":28.4,"y":0.27},{"x":30.2,"y":0.31},{"x":32.0,"y":0.28},{"x":33.8,"y":0.35},{"x":35.6,"y":0.27},{"x":37.4,"y":0.31},{"x":39.2,"y":0.35},{"x":41.0,"y":0.29},{"x":42.8,"y":0.33},{"x":44.6,"y":0.27},{"x":46.4,"y":0.35},{"x":48.2,"y":0.28},{"x":50.0,"y":0.34},{"x":51.8,"y":0.31},{"x":53.6,"y":0.36},{"x":55.4,"y":0.3},
{"x":19.8,"y":0.34},{"x":21.6,"y":0.32},{"x":23.4,"y":0.26},{"x":25.2,"y":0.32},{"x":27.0,"y":0.36},{"x":28.8,"y":0.33},{"x":30.6,"y":0.26},{"x":32.4,"y":0.32},{"x":34.2,"y":0.36},{"x":36.0,"y":0.29},{"x":37.8,"y":0.34},{"x":39.6,"y":0.27},{"x":41.4,"y":0.31},{"x":43.2,"y":0.36},{"x":45.0,"y":0.29},{"x":46.8,"y":0.31},{"x":48.6,"y":0.35},{"x":50.4,"y":0.27},{"x":52.2,"y":0.34},{"x":54.0,"y":0.31},
{"x":18.9,"y":0.29},{"x":20.9,"y":0.36},{"x":22.7,"y":0.31},{"x":24.5,"y":0.27},{"x":26.3,"y":0.31},{"x":28.1,"y":0.35},{"x":29.9,"y":0.28},{"x":31.7,"y":0.31},{"x":33.5,"y":0.33},{"x":35.3,"y":0.3},{"x":37.1,"y":0.27},{"x":38.9,"y":0.32},{"x":40.7,"y":0.34},{"x":42.5,"y":0.3},{"x":44.3,"y":0.32},{"x":46.1,"y":0.28},{"x":47.9,"y":0.32},{"x":49.7,"y":0.36},{"x":51.5,"y":0.29},{"x":53.3,"y":0.32},
{"x":17.5,"y":0.32},{"x":19.3,"y":0.27},{"x":21.9,"y":0.3},{"x":23.7,"y":0.33},{"x":25.5,"y":0.35},{"x":27.3,"y":0.29},{"x":29.1,"y":0.32},{"x":30.9,"y":0.36},{"x":32.7,"y":0.3},{"x":34.5,"y":0.28},{"x":36.3,"y":0.35},{"x":38.1,"y":0.29},{"x":39.9,"y":0.31},{"x":41.7,"y":0.35},{"x":43.5,"y":0.3},{"x":45.3,"y":0.33},{"x":47.1,"y":0.3},{"x":48.9,"y":0.26},{"x":50.7,"y":0.31},{"x":52.5,"y":0.37},
{"x":16.4,"y":0.35},{"x":18.4,"y":0.31},{"x":22.0,"y":0.33},{"x":24.3,"y":0.36},{"x":26.1,"y":0.26},{"x":27.9,"y":0.3},{"x":29.7,"y":0.34},{"x":31.9,"y":0.29},{"x":33.3,"y":0.27},{"x":35.1,"y":0.34},{"x":36.9,"y":0.31},{"x":38.7,"y":0.36},{"x":40.1,"y":0.28},{"x":42.3,"y":0.32},{"x":44.1,"y":0.35},{"x":45.9,"y":0.27},{"x":47.7,"y":0.34},{"x":49.5,"y":0.32},{"x":51.3,"y":0.35},{"x":53.1,"y":0.28},
{"x":20.2,"y":0.24},{"x":22.9,"y":0.25},{"x":25.7,"y":0.23},{"x":28.5,"y":0.24},{"x":31.1,"y":0.24},{"x":33.9,"y":0.25},{"x":36.5,"y":0.24},{"x":39.3,"y":0.25},{"x":42.0,"y":0.25},{"x":44.8,"y":0.24},{"x":47.4,"y":0.25},{"x":50.2,"y":0.24},{"x":19.5,"y":0.38},{"x":23.1,"y":0.38},{"x":26.8,"y":0.39},{"x":30.4,"y":0.38},{"x":34.0,"y":0.39},{"x":37.6,"y":0.38},{"x":41.2,"y":0.39},{"x":44.7,"y":0.38},{"x":48.3,"y":0.39},{"x":51.9,"y":0.38},
{"x":55.9,"y":0.34},{"x":56.8,"y":0.29},{"x":57.7,"y":0.32},{"x":58.6,"y":0.35},{"x":59.5,"y":0.3},{"x":60.4,"y":0.33},{"x":61.3,"y":0.28},{"x":62.2,"y":0.34},{"x":63.1,"y":0.31},{"x":64.0,"y":0.36},{"x":64.9,"y":0.29},{"x":65.8,"y":0.33},{"x":66.7,"y":0.3},{"x":56.3,"y":0.37},{"x":58.1,"y":0.27},{"x":60.0,"y":0.36},{"x":61.9,"y":0.31},{"x":63.7,"y":0.27},{"x":65.4,"y":0.37},{"x":67.5,"y":0.34},
{"x":15.3,"y":0.3},{"x":16.9,"y":0.27},{"x":14.2,"y":0.33},{"x":13.1,"y":0.29},{"x":15.8,"y":0.37},{"x":17.8,"y":0.24},{"x":12.4,"y":0.35},{"x":14.7,"y":0.25},{"x":16.1,"y":0.4},{"x":11.6,"y":0.31},
{"x":24.6,"y":0.29},{"x":25.4,"y":0.31},{"x":26.4,"y":0.32},{"x":23.8,"y":0.3},{"x":27.5,"y":0.31},{"x":22.5,"y":0.3},{"x":28.3,"y":0.29},{"x":21.4,"y":0.29},{"x":29.3,"y":0.31},{"x":26.0,"y":0.3},{"x":24.9,"y":0.34},{"x":27.1,"y":0.28},{"x":23.3,"y":0.32},{"x":25.0,"y":0.27},{"x":26.7,"y":0.29},
{"x":40.9,"y":0.31},{"x":42.6,"y":0.31},{"x":44.2,"y":0.3},{"x":45.5,"y":0.32},{"x":46.6,"y":0.33},{"x":43.0,"y":0.32},{"x":41.6,"y":0.33},{"x":47.3,"y":0.31},{"x":44.9,"y":0.34},{"x":43.6,"y":0.29},
{"x":30.0,"y":0.3},{"x":32.2,"y":0.31},{"x":34.7,"y":0.32},{"x":36.2,"y":0.31},{"x":38.3,"y":0.32},{"x":35.8,"y":0.33},{"x":33.6,"y":0.3},{"x":31.4,"y":0.33},{"x":37.9,"y":0.3},{"x":39.5,"y":0.33},
{"x":53.8,"y":0.34},{"x":55.1,"y":0.32},{"x":54.4,"y":0.28},{"x":52.6,"y":0.31},{"x":56.0,"y":0.31},{"x":57.2,"y":0.34},{"x":50.9,"y":0.33},{"x":49.0,"y":0.31},{"x":58.9,"y":0.32},{"x":55.7,"y":0.26},
{"x":19.1,"y":0.3},{"x":20.8,"y":0.33},{"x":22.4,"y":0.27},{"x":24.0,"y":0.31},{"x":25.6,"y":0.34},{"x":27.2,"y":0.29},{"x":28.8,"y":0.31},{"x":30.4,"y":0.35},{"x":32.0,"y":0.3},{"x":33.6,"y":0.27},{"x":35.2,"y":0.32},{"x":36.8,"y":0.35},{"x":38.4,"y":0.28},{"x":40.0,"y":0.33},{"x":41.6,"y":0.29},{"x":43.2,"y":0.31},{"x":44.8,"y":0.35},{"x":46.4,"y":0.3},{"x":48.0,"y":0.27},{"x":49.6,"y":0.33},{"x":51.2,"y":0.3},{"x":52.8,"y":0.35},{"x":54.4,"y":0.31},{"x":56.0,"y":0.28},
{"x":18.2,"y":0.34},{"x":19.9,"y":0.28},{"x":21.5,"y":0.35},{"x":23.1,"y":0.3},{"x":24.7,"y":0.26},{"x":26.3,"y":0.33},{"x":27.9,"y":0.37},{"x":29.5,"y":0.27},{"x":31.1,"y":0.32},{"x":32.7,"y":0.35},{"x":34.3,"y":0.29},{"x":35.9,"y":0.26},{"x":37.5,"y":0.33},{"x":39.1,"y":0.31},{"x":40.7,"y":0.36},{"x":42.3,"y":0.27},{"x":43.9,"y":0.32},{"x":45.5,"y":0.29},{"x":47.1,"y":0.35},{"x":48.7,"y":0.3},{"x":50.3,"y":0.36},{"x":51.9,"y":0.27},{"x":53.5,"y":0.33},{"x":55.1,"y":0.36},
{"x":20.0,"y":0.29},{"x":21.1,"y":0.31},{"x":22.0,"y":0.32},{"x":23.0,"y":0.29},{"x":24.2,"y":0.3},{"x":25.3,"y":0.29},{"x":26.2,"y":0.31},{"x":27.0,"y":0.33},{"x":28.0,"y":0.3},{"x":29.0,"y":0.29},{"x":29.8,"y":0.32},{"x":30.8,"y":0.3},{"x":31.6,"y":0.28},{"x":32.5,"y":0.33},{"x":33.4,"y":0.31},{"x":34.6,"y":0.3},{"x":35.5,"y":0.31},{"x":36.4,"y":0.29},{"x":37.3,"y":0.32},{"x":38.2,"y":0.33},{"x":39.0,"y":0.29},{"x":40.2,"y":0.3},{"x":41.3,"y":0.32},{"x":42.4,"y":0.34},{"x":43.3,"y":0.3},{"x":44.4,"y":0.31},{"x":45.2,"y":0.28},{"x":46.2,"y":0.32},{"x":47.2,"y":0.29},{"x":48.3,"y":0.31},{"x":49.2,"y":0.33},{"x":50.6,"y":0.3},{"x":51.6,"y":0.32},{"x":52.7,"y":0.3},{"x":53.9,"y":0.29},{"x":55.6,"y":0.33},{"x":57.5,"y":0.3},{"x":59.2,"y":0.33},{"x":61.0,"y":0.3},{"x":62.6,"y":0.32},
{"x":18.6,"y":0.26},{"x":21.9,"y":0.25},{"x":25.1,"y":0.25},{"x":28.3,"y":0.26},{"x":31.5,"y":0.26},{"x":34.8,"y":0.25},{"x":38.0,"y":0.26},{"x":41.2,"y":0.25},{"x":44.4,"y":0.26},{"x":47.6,"y":0.25},{"x":17.1,"y":0.37},{"x":20.4,"y":0.37},{"x":23.8,"y":0.37},{"x":27.3,"y":0.36},{"x":30.6,"y":0.37},{"x":33.9,"y":0.37},{"x":37.2,"y":0.37},{"x":40.5,"y":0.37},{"x":43.8,"y":0.37},{"x":47.2,"y":0.37},{"x":50.7,"y":0.35},{"x":54.0,"y":0.35},{"x":57.0,"y":0.36},{"x":60.7,"y":0.35},{"x":63.6,"y":0.33},{"x":65.0,"y":0.31},{"x":58.3,"y":0.29},{"x":61.8,"y":0.27},{"x":15.5,"y":0.33},{"x":16.3,"y":0.29},
{"x":18.1,"y":0.22},{"x":21.0,"y":0.21},{"x":27.6,"y":0.21},{"x":33.0,"y":0.22},{"x":38.0,"y":0.21},{"x":43.4,"y":0.22},{"x":49.8,"y":0.22},{"x":35.9,"y":0.19},{"x":24.2,"y":0.19},{"x":46.0,"y":0.2},{"x":62.8,"y":0.25},{"x":68.3,"y":0.3},{"x":69.4,"y":0.36},{"x":70.6,"y":0.33},{"x":66.2,"y":0.26},
{"x":72.0,"y":0.34},{"x":74.3,"y":0.31},{"x":76.1,"y":0.36},{"x":78.4,"y":0.33},{"x":80.2,"y":0.38},{"x":82.7,"y":0.32},{"x":84.5,"y":0.35},{"x":86.9,"y":0.37},{"x":88.3,"y":0.31},{"x":90.6,"y":0.34},{"x":92.8,"y":0.38},{"x":94.1,"y":0.33},{"x":96.5,"y":0.36},{"x":98.6,"y":0.34},{"x":73.5,"y":0.39},{"x":77.6,"y":0.29},{"x":81.4,"y":0.36},{"x":85.7,"y":0.3},{"x":89.9,"y":0.39},{"x":93.5,"y":0.3},{"x":97.2,"y":0.4},{"x":75.2,"y":0.35},{"x":79.3,"y":0.37},{"x":83.6,"y":0.39},{"x":87.8,"y":0.34},{"x":91.7,"y":0.35},{"x":95.8,"y":0.31},{"x":99.1,"y":0.37},{"x":71.0,"y":0.3},{"x":86.2,"y":0.42},{"x":93.0,"y":0.45},{"x":80.9,"y":0.41},
{"x":3.2,"y":0.98},{"x":5.4,"y":0.99},{"x":2.1,"y":0.86},{"x":4.5,"y":0.82},{"x":7.8,"y":0.9},{"x":9.0,"y":0.94},{"x":1.6,"y":0.72},{"x":3.9,"y":0.66},{"x":6.1,"y":0.58},{"x":2.8,"y":0.52},{"x":5.0,"y":0.47},{"x":8.3,"y":0.73},{"x":12.0,"y":0.73},{"x":28.0,"y":0.85},{"x":36.3,"y":0.81},{"x":38.5,"y":0.89},{"x":89.6,"y":0.69},{"x":76.3,"y":0.68},{"x":97.8,"y":0.64},{"x":61.8,"y":0.79},{"x":72.8,"y":0.46},{"x":76.0,"y":0.15},{"x":99.0,"y":0.15},{"x":85.2,"y":0.48}]
},
"columns":2,
"spacing":{"row":19,"column":34},
"concat":[
{"width":530,"height":267,
 "layer":[
  {"data":{"name":"h1"},"mark":{"type":"area","interpolate":"step","color":"#8fc6b9"},
   "encoding":{"x":{"field":"x","type":"quantitative","scale":{"domain":[0,100]},"axis":{"orient":"bottom","values":[0,10,20,30,40,50,60,70,80,90,100],"title":null}},
    "y":{"field":"n","type":"quantitative","scale":{"domain":[0,50]},"axis":{"orient":"left","values":[0,10,20,30,40,50],"title":"Entries","titlePadding":7}}}},
  {"data":{"name":"h1"},"mark":{"type":"line","interpolate":"step","color":"#047a5c","strokeWidth":2.2},
   "encoding":{"x":{"field":"x","type":"quantitative","axis":{"orient":"top","values":[0,10,20,30,40,50,60,70,80,90,100],"labels":false,"title":null}},
    "y":{"field":"n","type":"quantitative","axis":{"orient":"right","values":[0,10,20,30,40,50],"labels":false,"title":null}}}},
  {"data":{"values":[{"x":84.9,"y":43.4,"t":"210"}]},"mark":{"type":"text","align":"right","baseline":"alphabetic","font":"Liberation Sans","fontWeight":"bold","fontSize":14,"color":"black"},
   "encoding":{"x":{"field":"x","type":"quantitative","axis":null},"y":{"field":"y","type":"quantitative","axis":null},"text":{"field":"t","type":"nominal"}}},
  {"data":{"values":[{"x":84.9,"y":42,"t":"Pb"}]},"mark":{"type":"text","align":"left","baseline":"alphabetic","font":"Liberation Sans","fontWeight":"bold","fontSize":21,"color":"black"},
   "encoding":{"x":{"field":"x","type":"quantitative","axis":null},"y":{"field":"y","type":"quantitative","axis":null},"text":{"field":"t","type":"nominal"}}}
 ],
 "resolve":{"axis":{"x":"independent","y":"independent"}}},
{"width":530,"height":267,
 "layer":[
  {"data":{"name":"h2"},"mark":{"type":"area","interpolate":"step","color":"#8fc6b9"},
   "encoding":{"x":{"field":"x","type":"quantitative","scale":{"domain":[0,100]},"axis":{"orient":"bottom","values":[0,10,20,30,40,50,60,70,80,90,100],"title":null}},
    "y":{"field":"n","type":"quantitative","scale":{"domain":[0,50]},"axis":{"orient":"left","values":[0,10,20,30,40,50],"title":null}}}},
  {"data":{"name":"h2"},"mark":{"type":"line","interpolate":"step","color":"#047a5c","strokeWidth":2.2},
   "encoding":{"x":{"field":"x","type":"quantitative","axis":{"orient":"top","values":[0,10,20,30,40,50,60,70,80,90,100],"labels":false,"title":null}},
    "y":{"field":"n","type":"quantitative","axis":{"orient":"right","values":[0,10,20,30,40,50],"labels":false,"title":null}}}},
  {"data":{"values":[{"x":74.9,"y":43.4,"t":"210"}]},"mark":{"type":"text","align":"right","baseline":"alphabetic","font":"Liberation Sans","fontWeight":"bold","fontSize":14,"color":"black"},
   "encoding":{"x":{"field":"x","type":"quantitative","axis":null},"y":{"field":"y","type":"quantitative","axis":null},"text":{"field":"t","type":"nominal"}}},
  {"data":{"values":[{"x":74.9,"y":42,"t":"Pb + ext."}]},"mark":{"type":"text","align":"left","baseline":"alphabetic","font":"Liberation Sans","fontWeight":"bold","fontSize":21,"color":"black"},
   "encoding":{"x":{"field":"x","type":"quantitative","axis":null},"y":{"field":"y","type":"quantitative","axis":null},"text":{"field":"t","type":"nominal"}}},
  {"data":{"values":[{"x":93.3,"y":42,"t":"γ"}]},"mark":{"type":"text","align":"left","baseline":"alphabetic","font":"Liberation Serif","fontSize":26,"color":"black"},
   "encoding":{"x":{"field":"x","type":"quantitative","axis":null},"y":{"field":"y","type":"quantitative","axis":null},"text":{"field":"t","type":"nominal"}}}
 ],
 "resolve":{"axis":{"x":"independent","y":"independent"}}},
{"width":530,"height":266,
 "layer":[
  {"data":{"name":"s1"},"mark":{"type":"circle","size":9,"color":"#333333","opacity":0.8,"clip":true},
   "encoding":{"x":{"field":"x","type":"quantitative","scale":{"domain":[0,100]},"axis":{"orient":"bottom","values":[0,10,20,30,40,50,60,70,80,90,100],"title":"Integrated pulse height [nVs]","titlePadding":14,"titleX":283}},
    "y":{"field":"y","type":"quantitative","scale":{"domain":[0.1,1]},"axis":{"orient":"left","values":[0.2,0.3,0.4,0.5,0.6,0.7,0.8,0.9,1],"labelExpr":"datum.value == 1 ? '1' : format(datum.value, '.1f')","title":"Fast (<50ns) / total Light","titlePadding":0}}}},
  {"data":{"values":[{"x":55.3,"y":0.816,"t":"α"},{"x":20.4,"y":0.144,"t":"β"}]},"mark":{"type":"text","align":"left","baseline":"alphabetic","font":"Liberation Serif","fontSize":32,"color":"#0d4f3e"},
   "encoding":{"x":{"field":"x","type":"quantitative","axis":{"orient":"top","values":[0,10,20,30,40,50,60,70,80,90,100],"labels":false,"title":null}},
    "y":{"field":"y","type":"quantitative","axis":{"orient":"right","values":[0.2,0.3,0.4,0.5,0.6,0.7,0.8,0.9,1],"labels":false,"title":null}},"text":{"field":"t","type":"nominal"}}},
  {"data":{"values":[{"x":83.2,"y":0.274,"t":"μ"}]},"mark":{"type":"text","align":"left","baseline":"alphabetic","font":"Liberation Serif","fontSize":32,"color":"black"},
   "encoding":{"x":{"field":"x","type":"quantitative","axis":null},"y":{"field":"y","type":"quantitative","axis":null},"text":{"field":"t","type":"nominal"}}},
  {"data":{"values":[{"x":60.6,"y":0.816,"t":"(5.3 MeV)"},{"x":25.5,"y":0.144,"t":"(1.2 MeV)"}]},"mark":{"type":"text","align":"left","baseline":"alphabetic","font":"Liberation Sans","fontWeight":"bold","fontSize":22,"color":"#0d4f3e"},
   "encoding":{"x":{"field":"x","type":"quantitative","axis":null},"y":{"field":"y","type":"quantitative","axis":null},"text":{"field":"t","type":"nominal"}}}
 ],
 "resolve":{"axis":{"x":"independent","y":"independent"}}},
{"width":530,"height":266,
 "layer":[
  {"data":{"name":"s2"},"mark":{"type":"circle","size":9,"color":"#333333","opacity":0.8,"clip":true},
   "encoding":{"x":{"field":"x","type":"quantitative","scale":{"domain":[0,100]},"axis":{"orient":"bottom","values":[0,10,20,30,40,50,60,70,80,90,100],"title":"Integrated pulse height [nVs]","titlePadding":14,"titleX":283}},
    "y":{"field":"y","type":"quantitative","scale":{"domain":[0.1,1]},"axis":{"orient":"left","values":[0.2,0.3,0.4,0.5,0.6,0.7,0.8,0.9,1],"labelExpr":"datum.value == 1 ? '1' : format(datum.value, '.1f')","title":null}}}},
  {"data":{"values":[{"x":56.8,"y":0.82,"t":"α"},{"x":21.9,"y":0.137,"t":"β"},{"x":44.3,"y":0.2,"t":"γ"},{"x":81.7,"y":0.278,"t":"μ"}]},"mark":{"type":"text","align":"left","baseline":"alphabetic","font":"Liberation Serif","fontSize":32,"color":"#0d4f3e"},
   "encoding":{"x":{"field":"x","type":"quantitative","axis":{"orient":"top","values":[0,10,20,30,40,50,60,70,80,90,100],"labels":false,"title":null}},
    "y":{"field":"y","type":"quantitative","axis":{"orient":"right","values":[0.2,0.3,0.4,0.5,0.6,0.7,0.8,0.9,1],"labels":false,"title":null}},"text":{"field":"t","type":"nominal"}}}
 ],
 "resolve":{"axis":{"x":"independent","y":"independent"}}}
]
}
